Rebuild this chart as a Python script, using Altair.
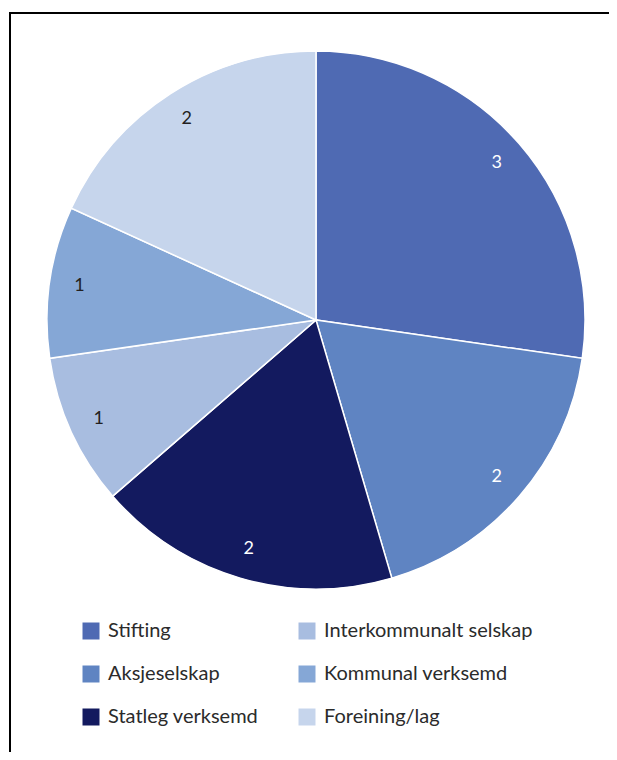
import altair as alt
import pandas as pd

categories = ["Stifting", "Aksjeselskap", "Statleg verksemd",
              "Interkommunalt selskap", "Kommunal verksemd", "Foreining/lag"]
values = [3, 2, 2, 1, 1, 2]
colors = ["#4F6AB3", "#5F84C2", "#131A5F", "#A8BDE0", "#85A7D6", "#C6D5EC"]
label_colors = ["white", "white", "white", "#231F20", "#231F20", "#231F20"]

df = pd.DataFrame({
    "kategori": categories,
    "verdi": values,
    "rekkefolgje": list(range(len(categories))),
    "tekstfarge": label_colors,
})

color = alt.Color(
    "kategori:N",
    scale=alt.Scale(domain=categories, range=colors),
    legend=alt.Legend(
        title=None, orient="none", legendX=73, legendY=613, columns=2,
        symbolType="square", symbolSize=289, symbolStrokeWidth=0,
        labelFont="Lato", labelFontSize=20, labelColor="#2B2B2B",
        labelOffset=7, rowPadding=23, columnPadding=38, padding=0,
        labelLimit=400,
    ),
)

base = alt.Chart(df).encode(
    theta=alt.Theta("verdi:Q", stack=True),
    order=alt.Order("rekkefolgje:Q"),
)

pie = base.mark_arc(outerRadius=269, stroke="white", strokeWidth=1.5).encode(
    color=color,
    x=alt.value(308),
    y=alt.value(312),
)

labels = base.mark_text(radius=239, font="Lato", fontSize=18).encode(
    text="verdi:Q",
    color=alt.Color("tekstfarge:N", scale=None),
    x=alt.value(308),
    y=alt.value(312),
)

one = pd.DataFrame({"f": [0]})
left_line = alt.Chart(one).mark_rule(color="black", strokeWidth=2).encode(
    x=alt.value(2), y=alt.value(4), y2=alt.value(744)
)
top_line = alt.Chart(one).mark_rule(color="black", strokeWidth=2).encode(
    x=alt.value(1), x2=alt.value(601), y=alt.value(5)
)

chart = alt.layer(left_line, top_line, pie, labels).properties(
    width=601, height=744, padding=0,
    autosize=alt.AutoSizeParams(type="none"),
).resolve_scale(color="independent").configure_view(stroke=None)

chart.save("out.html", embed_options={"renderer": "svg", "actions": False})
